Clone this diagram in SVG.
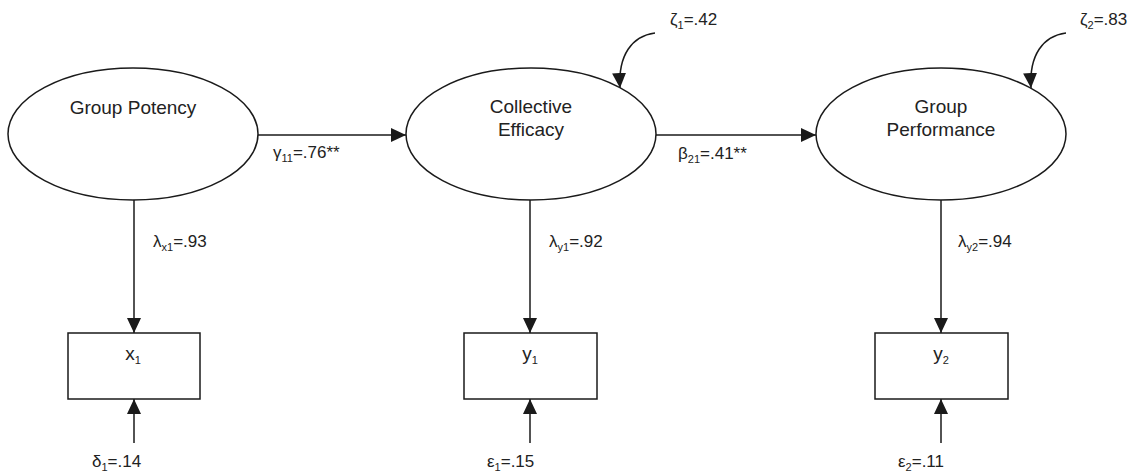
<svg xmlns="http://www.w3.org/2000/svg" width="1134" height="472" viewBox="0 0 1134 472">
  <style>
    .shape { fill: #fff; stroke: #1a1a1a; stroke-width: 1.5; }
    .conn { fill: none; stroke: #1a1a1a; stroke-width: 1.5; }
    .node { font-family: "Liberation Sans", Arial, sans-serif; font-size: 19px; fill: #222; text-anchor: middle; }
    .lbl { font-family: "Liberation Sans", Arial, sans-serif; font-size: 17px; fill: #222; }
    .sub { font-size: 11px; }
  </style>
  <defs>
    <marker id="ah" markerUnits="userSpaceOnUse" markerWidth="16" markerHeight="14" refX="15" refY="7" orient="auto">
      <path d="M0,0 L15,7 L0,14 z" fill="#1a1a1a"/>
    </marker>
  </defs>
  <rect width="1134" height="472" fill="#fff"/>

  <g id="connectors">
    <line class="conn" x1="258" y1="135" x2="406" y2="135" marker-end="url(#ah)"/>
    <line class="conn" x1="656" y1="135" x2="816" y2="135" marker-end="url(#ah)"/>
    <line class="conn" x1="134" y1="200" x2="134" y2="333" marker-end="url(#ah)"/>
    <line class="conn" x1="530" y1="200" x2="530" y2="333" marker-end="url(#ah)"/>
    <line class="conn" x1="941" y1="200" x2="941" y2="333" marker-end="url(#ah)"/>
    <line class="conn" x1="134" y1="443" x2="134" y2="399" marker-end="url(#ah)"/>
    <line class="conn" x1="530" y1="443" x2="530" y2="399" marker-end="url(#ah)"/>
    <line class="conn" x1="941" y1="443" x2="941" y2="399" marker-end="url(#ah)"/>
    <path class="conn" d="M655,33 C632,36 618,55 620,88" marker-end="url(#ah)"/>
    <path class="conn" d="M1066,33 C1043,36 1029,55 1031,88" marker-end="url(#ah)"/>
    <text class="lbl" x="273" y="158">γ<tspan class="sub" dy="4">11</tspan><tspan dy="-4">=.76**</tspan></text>
    <text class="lbl" x="678" y="159">β<tspan class="sub" dy="4">21</tspan><tspan dy="-4">=.41**</tspan></text>
    <text class="lbl" x="153" y="247">λ<tspan class="sub" dy="4">x1</tspan><tspan dy="-4">=.93</tspan></text>
    <text class="lbl" x="549" y="247">λ<tspan class="sub" dy="4">y1</tspan><tspan dy="-4">=.92</tspan></text>
    <text class="lbl" x="958" y="247">λ<tspan class="sub" dy="4">y2</tspan><tspan dy="-4">=.94</tspan></text>
    <text class="lbl" x="670" y="25">ζ<tspan class="sub" dy="4">1</tspan><tspan dy="-4">=.42</tspan></text>
    <text class="lbl" x="1080" y="25">ζ<tspan class="sub" dy="4">2</tspan><tspan dy="-4">=.83</tspan></text>
    <text class="lbl" x="92" y="467">δ<tspan class="sub" dy="4">1</tspan><tspan dy="-4">=.14</tspan></text>
    <text class="lbl" x="487" y="467">ε<tspan class="sub" dy="4">1</tspan><tspan dy="-4">=.15</tspan></text>
    <text class="lbl" x="898" y="467">ε<tspan class="sub" dy="4">2</tspan><tspan dy="-4">=.11</tspan></text>
  </g>

  <g id="group-potency">
    <ellipse class="shape" cx="133" cy="134" rx="125" ry="66"/>
    <text class="node" x="133" y="114">Group Potency</text>
  </g>
  <g id="collective-efficacy">
    <ellipse class="shape" cx="531" cy="134" rx="125" ry="66"/>
    <text class="node" x="531" y="113">Collective</text>
    <text class="node" x="531" y="136">Efficacy</text>
  </g>
  <g id="group-performance">
    <ellipse class="shape" cx="941" cy="134" rx="125" ry="66"/>
    <text class="node" x="941" y="113">Group</text>
    <text class="node" x="941" y="136">Performance</text>
  </g>
  <g id="x1">
    <rect class="shape" x="68" y="333" width="132" height="66"/>
    <text class="node" x="133" y="360">x<tspan class="sub" dy="4">1</tspan></text>
  </g>
  <g id="y1">
    <rect class="shape" x="464" y="333" width="133" height="66"/>
    <text class="node" x="530" y="360">y<tspan class="sub" dy="4">1</tspan></text>
  </g>
  <g id="y2">
    <rect class="shape" x="875" y="333" width="133" height="66"/>
    <text class="node" x="941" y="360">y<tspan class="sub" dy="4">2</tspan></text>
  </g>
</svg>
